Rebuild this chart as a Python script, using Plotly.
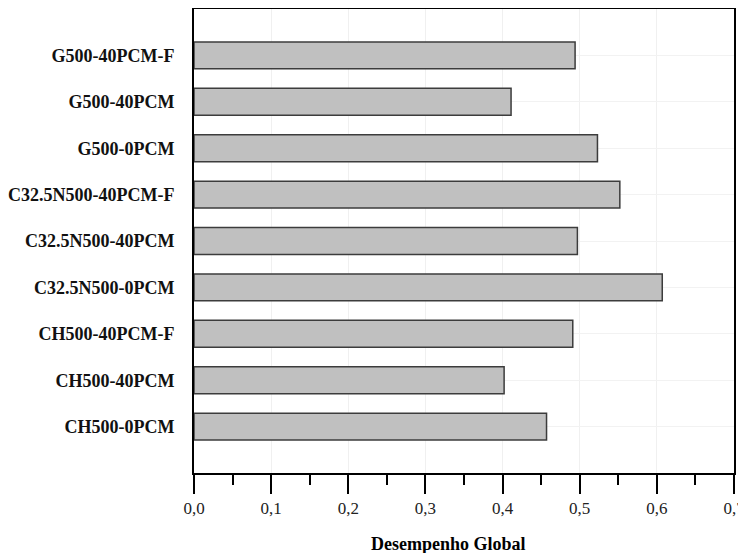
import plotly.graph_objects as go

categories = [
    "CH500-0PCM",
    "CH500-40PCM",
    "CH500-40PCM-F",
    "C32.5N500-0PCM",
    "C32.5N500-40PCM",
    "C32.5N500-40PCM-F",
    "G500-0PCM",
    "G500-40PCM",
    "G500-40PCM-F",
]
desempenho = [0.457, 0.402, 0.491, 0.607, 0.497, 0.552, 0.523, 0.411, 0.494]
x_ticks = [0.0, 0.1, 0.2, 0.3, 0.4, 0.5, 0.6, 0.7]
x_title = "Desempenho Global"

fig = go.Figure()
fig.add_trace(go.Bar(
    x=desempenho,
    y=categories,
    orientation="h",
    width=0.58,
    marker=dict(color="#c0c0c0", line=dict(color="#3c3c3c", width=1.5)),
))

# page body has an 8px default margin; size and margins compensate for it
fig.update_layout(
    width=738, height=545,
    margin=dict(l=186, r=12, t=1, b=80, autoexpand=False),
    paper_bgcolor="white", plot_bgcolor="white",
    separators=",.",
    showlegend=False,
    font=dict(family="Liberation Serif", color="black"),
    annotations=[dict(
        text="<b>" + x_title + "</b>",
        xref="paper", yref="paper",
        x=(448 - 194) / (734 - 194), y=-0.152,
        xanchor="center", yanchor="middle",
        showarrow=False,
        font=dict(family="Liberation Serif", size=18, color="black"),
    )],
)

fig.update_xaxes(
    range=[0, 0.7],
    tickvals=x_ticks,
    tickformat=".1f",
    ticks="outside", ticklen=19, tickwidth=2, tickcolor="black",
    minor=dict(ticks="outside", ticklen=10, tickwidth=2, tickcolor="black", dtick=0.05,
               showgrid=False),
    showline=True, linecolor="black", linewidth=2, mirror=True,
    showgrid=True, gridcolor="#f0f0f0", gridwidth=1,
    zeroline=False,
    automargin=False,
    tickfont=dict(family="Liberation Serif", size=17, color="#222"),
)
fig.update_yaxes(
    type="category",
    categoryorder="array", categoryarray=categories,
    range=[-1, 9],
    ticks="",
    showline=True, linecolor="black", linewidth=2, mirror=True,
    showgrid=True, gridcolor="#f2f2f2", gridwidth=1,
    zeroline=False,
    automargin=False,
    ticklabelstandoff=14,
    tickprefix="<b>", ticksuffix="</b>",
    tickfont=dict(family="Liberation Serif", size=18, color="#111"),
)

fig.write_html("out.html")
